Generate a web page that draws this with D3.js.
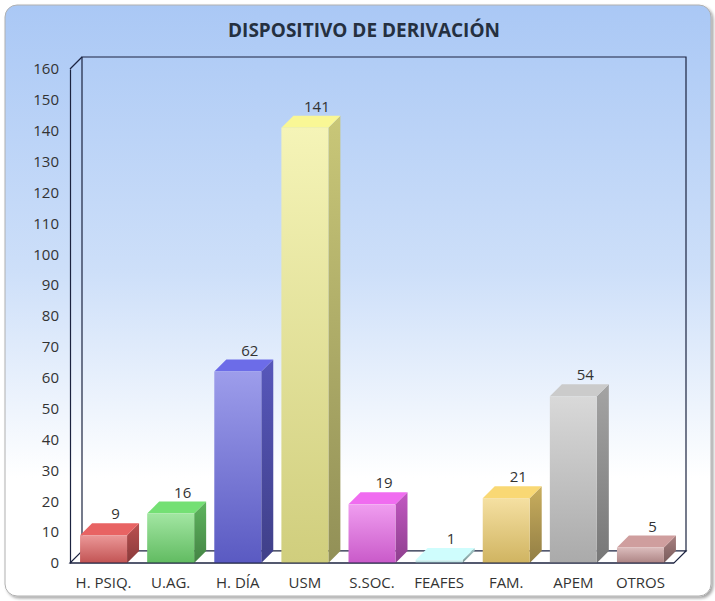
<!DOCTYPE html>
<html>
<head>
<meta charset="utf-8">
<script src="https://cdn.jsdelivr.net/npm/d3@7"></script>
<style>
  body { margin: 0; background: #fff; }
  text { font-family: "Open Sans", sans-serif; }
</style>
</head>
<body>
<div id="chart-area"></div>
<script>
var categories = ["H. PSIQ.", "U.AG.", "H. DÍA", "USM", "S.SOC.", "FEAFES", "FAM.", "APEM", "OTROS"];
var values = [9, 16, 62, 141, 19, 1, 21, 54, 5];
var barColors = ["#e06060", "#70d870", "#6868e0", "#f0ee90", "#e868e8", "#c8f4f4", "#f0d070", "#c4c4c4", "#c89898"];
var yTicks = d3.range(0, 161, 10);
var title = "DISPOSITIVO DE DERIVACIÓN";

var W = 715, H = 601;
var plotLeft = 70, plotRight = 674, plotTop = 69, plotBottom = 563;
var depth = 12;
var labelSize = "15px";

var svg = d3.select("#chart-area")
  .append("svg")
  .attr("width", W)
  .attr("height", H);

var defs = svg.append("defs");

// background gradient for the panel
var bg = defs.append("linearGradient")
  .attr("id", "bg")
  .attr("x1", 0).attr("y1", 0).attr("x2", 0).attr("y2", 1);
bg.append("stop").attr("offset", "0%").attr("stop-color", "#aac8f5");
bg.append("stop").attr("offset", "45%").attr("stop-color", "#cddff9");
bg.append("stop").attr("offset", "80%").attr("stop-color", "#ffffff");
bg.append("stop").attr("offset", "100%").attr("stop-color", "#ffffff");

var shadow = defs.append("filter").attr("id", "shadow")
  .attr("x", "-5%").attr("y", "-5%").attr("width", "110%").attr("height", "110%");
shadow.append("feDropShadow")
  .attr("dx", 2).attr("dy", 2).attr("stdDeviation", 1.5)
  .attr("flood-color", "#000").attr("flood-opacity", 0.35);

svg.append("rect")
  .attr("x", 5).attr("y", 5)
  .attr("width", 706).attr("height", 591)
  .attr("rx", 12)
  .attr("fill", "url(#bg)")
  .attr("stroke", "#b0b0b0")
  .attr("filter", "url(#shadow)");

svg.append("text")
  .attr("x", 364).attr("y", 37)
  .attr("text-anchor", "middle")
  .attr("font-size", "19px")
  .attr("font-weight", "bold")
  .attr("fill", "#253040")
  .text(title);

// scales
var x = d3.scaleBand()
  .domain(categories)
  .range([plotLeft, plotRight])
  .paddingInner(0.3)
  .paddingOuter(0.15);

var y = d3.scaleLinear()
  .domain([0, 160])
  .range([plotBottom, plotTop]);

var frame = "#1c2340";

// back wall
svg.append("path")
  .attr("d", "M" + (plotLeft + depth) + "," + (y(160) - depth) +
    "H" + (plotRight + depth) + "V" + (plotBottom - depth) + "H" + (plotLeft + depth) + "Z")
  .attr("fill", "none")
  .attr("stroke", frame)
  .attr("stroke-width", 1.2);

svg.append("path")
  .attr("d", "M" + plotLeft + "," + y(160) + "L" + (plotLeft + depth) + "," + (y(160) - depth))
  .attr("fill", "none")
  .attr("stroke", frame)
  .attr("stroke-width", 1.2);

// floor
svg.append("path")
  .attr("d", "M" + plotLeft + "," + plotBottom + "H" + plotRight +
    "L" + (plotRight + depth) + "," + (plotBottom - depth) +
    "H" + (plotLeft + depth) + "Z")
  .attr("fill", "#ffffff")
  .attr("stroke", frame)
  .attr("stroke-width", 1.2);

// gradients per bar
var data = categories.map((c, i) => ({ name: c, value: values[i], color: barColors[i], i: i }));

data.forEach(d => {
  var base = d3.color(d.color);
  var gf = defs.append("linearGradient").attr("id", "front" + d.i)
    .attr("x1", 0).attr("y1", 0).attr("x2", 0).attr("y2", 1);
  gf.append("stop").attr("offset", "0%").attr("stop-color", d3.interpolateRgb(base, "#fff")(0.35));
  gf.append("stop").attr("offset", "100%").attr("stop-color", base.darker(0.4));
  var gs = defs.append("linearGradient").attr("id", "side" + d.i)
    .attr("x1", 0).attr("y1", 0).attr("x2", 0).attr("y2", 1);
  gs.append("stop").attr("offset", "0%").attr("stop-color", base.darker(0.5));
  gs.append("stop").attr("offset", "100%").attr("stop-color", base.darker(1.4));
});

var bars = svg.selectAll("g.bar")
  .data(data)
  .enter()
  .append("g")
  .attr("class", "bar");

// side face
bars.append("path")
  .attr("d", d => {
    var x1 = x(d.name) + x.bandwidth(), yt = y(d.value);
    return "M" + x1 + "," + plotBottom + "V" + yt +
      "L" + (x1 + depth) + "," + (yt - depth) +
      "V" + (plotBottom - depth) + "Z";
  })
  .attr("fill", d => "url(#side" + d.i + ")");

// top face
bars.append("path")
  .attr("d", d => {
    var x0 = x(d.name), x1 = x0 + x.bandwidth(), yt = y(d.value);
    return "M" + x0 + "," + yt + "H" + x1 +
      "L" + (x1 + depth) + "," + (yt - depth) +
      "H" + (x0 + depth) + "Z";
  })
  .attr("fill", d => d3.color(d.color).brighter(0.1));

// front face
bars.append("rect")
  .attr("x", d => x(d.name))
  .attr("y", d => y(d.value))
  .attr("width", x.bandwidth())
  .attr("height", d => plotBottom - y(d.value))
  .attr("fill", d => "url(#front" + d.i + ")");

// value labels
bars.append("text")
  .attr("x", d => x(d.name) + x.bandwidth() / 2 + depth)
  .attr("y", d => y(d.value) - depth - 4)
  .attr("text-anchor", "middle")
  .attr("font-size", labelSize)
  .attr("fill", "#333")
  .text(d => d.value);

// front floor line
svg.append("line")
  .attr("x1", plotLeft).attr("x2", plotRight)
  .attr("y1", plotBottom).attr("y2", plotBottom)
  .attr("stroke", frame)
  .attr("stroke-width", 1.2);

// y axis
var yAxis = svg.append("g")
  .attr("transform", "translate(" + plotLeft + ",0)")
  .call(d3.axisLeft(y).tickValues(yTicks).tickSize(0).tickPadding(11));
yAxis.select(".domain").attr("stroke", frame).attr("stroke-width", 1.2);
yAxis.selectAll("text")
  .attr("font-family", "Open Sans, sans-serif")
  .attr("font-size", labelSize)
  .attr("fill", "#333");

// x axis
var xAxis = svg.append("g")
  .attr("transform", "translate(0," + plotBottom + ")")
  .call(d3.axisBottom(x).tickSize(0).tickPadding(14));
xAxis.select(".domain").remove();
xAxis.selectAll("text")
  .attr("font-family", "Open Sans, sans-serif")
  .attr("font-size", labelSize)
  .attr("fill", "#333");
</script>
</body>
</html>
